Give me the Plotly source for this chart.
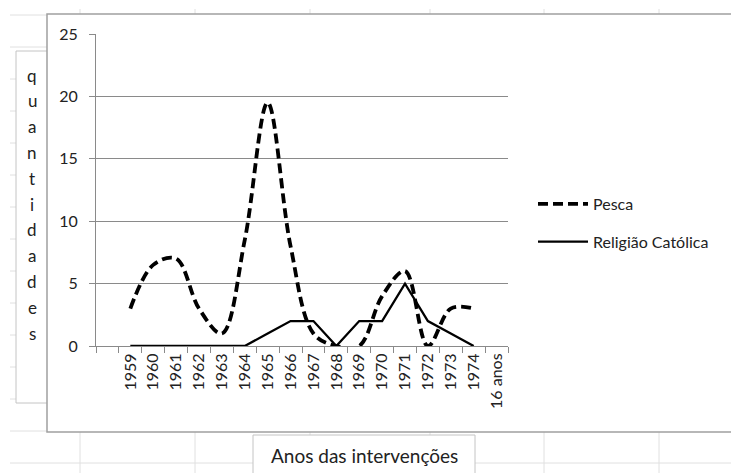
import plotly.graph_objects as go

# ---------------- data ----------------
categories = [" ", "1959", "1960", "1961", "1962", "1963", "1964", "1965", "1966",
              "1967", "1968", "1969", "1970", "1971", "1972", "1973", "1974", "16 anos"]
years = ["1959", "1960", "1961", "1962", "1963", "1964", "1965", "1966",
         "1967", "1968", "1969", "1970", "1971", "1972", "1973", "1974"]
pesca = [3, 6.5, 7, 3, 1, 8.5, 19.5, 8, 1, 0, 0, 4, 6, 0, 3, 3]
religiao = [0, 0, 0, 0, 0, 0, 1, 2, 2, 0, 2, 2, 5, 2, 1, 0]
y_ticks = [0, 5, 10, 15, 20, 25]
y_title = "quantidades"
x_title = "Anos das intervenções"

# ---------------- geometry helpers (window pixel coords) ----------------
W, H = 739, 473
OFF = 8  # default body margin of the html page
L, R, T, B = 96, 508, 34, 346


def px(xp):
    return (xp - L) / (R - L)


def py(yp):
    return (B - yp) / (B - T)


FONT = "Lato, 'Open Sans', sans-serif"
TXT = "#222222"

fig = go.Figure()
fig.add_trace(go.Scatter(
    x=years, y=pesca, name="Pesca", mode="lines",
    line=dict(color="black", width=3.8, dash="10px,5px", shape="spline", smoothing=1.0),
    legendgroup="a",
))
fig.add_trace(go.Scatter(
    x=years, y=religiao, name="Religião Católica", mode="lines",
    line=dict(color="black", width=2.3),
    legendgroup="b",
))

shapes = []
# spreadsheet grid in the background
for k in range(15):
    yy = 15 + 32 * k
    shapes.append(dict(type="line", xref="paper", yref="paper", layer="below",
                       x0=px(10), x1=px(745), y0=py(yy), y1=py(yy),
                       line=dict(color="#e0e0e0", width=1)))
for xx in [80, 195, 310, 430, 544, 659]:
    shapes.append(dict(type="line", xref="paper", yref="paper", layer="below",
                       x0=px(xx), x1=px(xx), y0=py(9), y1=py(480),
                       line=dict(color="#e0e0e0", width=1)))
# y-title box
shapes.append(dict(type="rect", xref="paper", yref="paper", layer="below",
                   x0=px(16), x1=px(70), y0=py(403), y1=py(51),
                   fillcolor="white", line=dict(color="#c4c4c4", width=1)))
# chart area box
shapes.append(dict(type="rect", xref="paper", yref="paper", layer="below",
                   x0=px(47), x1=px(760), y0=py(432), y1=py(14),
                   fillcolor="white", line=dict(color="#a0a0a0", width=1.5)))
# x-title box
shapes.append(dict(type="rect", xref="paper", yref="paper", layer="below",
                   x0=px(253), x1=px(475), y0=py(480), y1=py(435),
                   fillcolor="white", line=dict(color="#c4c4c4", width=1)))

annotations = []
for i, ch in enumerate(y_title):
    annotations.append(dict(text=ch, xref="paper", yref="paper",
                            x=px(32), y=py(75 + 25.8 * i), xanchor="center", yanchor="middle",
                            showarrow=False, font=dict(family=FONT, size=17, color=TXT)))
annotations.append(dict(text=x_title, xref="paper", yref="paper",
                        x=px(364), y=py(455), xanchor="center", yanchor="middle",
                        showarrow=False, font=dict(family=FONT, size=19, color=TXT)))

fig.update_layout(
    width=W - OFF, height=H - OFF,
    margin=dict(l=L - OFF, r=W - R, t=T - OFF, b=H - B, pad=0),
    paper_bgcolor="white", plot_bgcolor="rgba(0,0,0,0)",
    font=dict(family=FONT, size=15, color=TXT),
    shapes=shapes, annotations=annotations,
    showlegend=True,
    legend=dict(x=px(533), y=py(187), xanchor="left", yanchor="top",
                bgcolor="rgba(0,0,0,0)", itemwidth=50, tracegroupgap=14,
                font=dict(family=FONT, size=16, color=TXT)),
    xaxis=dict(type="category", categoryorder="array", categoryarray=categories,
               range=[-0.5, len(categories) - 0.5], tickangle=-90,
               showgrid=False, showline=True, linecolor="#8a8a8a", linewidth=1,
               ticks="outside", tickson="boundaries", ticklen=6, tickcolor="#8a8a8a",
               tickfont=dict(family=FONT, size=16, color=TXT), fixedrange=True),
    yaxis=dict(range=[0, 25], tickvals=y_ticks, showgrid=True, gridcolor="#8a8a8a", gridwidth=1,
               showline=True, linecolor="#8a8a8a", linewidth=1, zeroline=False,
               ticks="outside", ticklen=6, tickcolor="#8a8a8a", ticklabelstandoff=8,
               tickfont=dict(family=FONT, size=16, color=TXT), fixedrange=True),
)

fig.write_html("out.html")
